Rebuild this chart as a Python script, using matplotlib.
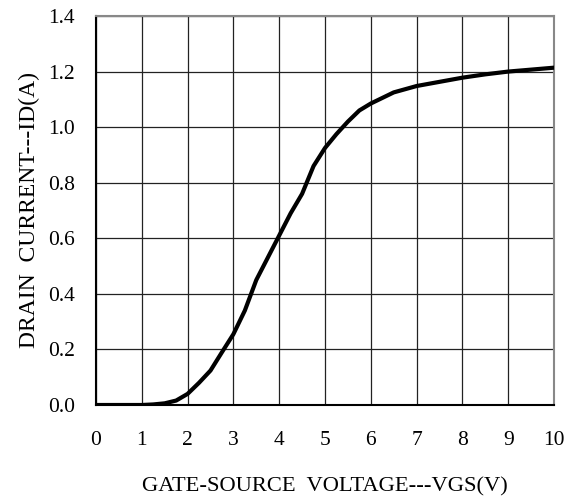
import matplotlib
matplotlib.use("Agg")
import matplotlib.pyplot as plt

vgs = [0, 0.5, 1.0, 1.25, 1.5, 1.75, 2.0, 2.25, 2.5, 2.75, 3.0, 3.25, 3.5, 3.75,
       4.0, 4.25, 4.5, 4.75, 5.0, 5.25, 5.5, 5.75, 6.0, 6.5, 7.0, 7.5, 8.0, 8.5,
       9.0, 9.5, 10.0]
id_a = [0, 0, 0, 0.002, 0.006, 0.016, 0.04, 0.08, 0.124, 0.19, 0.255, 0.34, 0.45,
        0.53, 0.61, 0.69, 0.76, 0.86, 0.925, 0.975, 1.02, 1.06, 1.085, 1.125,
        1.148, 1.163, 1.178, 1.19, 1.20, 1.207, 1.214]
x_ticks = [0, 1, 2, 3, 4, 5, 6, 7, 8, 9, 10]
y_ticks = [0.0, 0.2, 0.4, 0.6, 0.8, 1.0, 1.2, 1.4]
y_tick_labels = ["0.0", "0.2", "0.4", "0.6", "0.8", "1.0", "1.2", "1.4"]
x_label = "GATE-SOURCE  VOLTAGE---VGS(V)"
y_label = "DRAIN  CURRENT---ID(A)"

plt.rcParams['font.family'] = ['Liberation Serif', 'DejaVu Serif']
FS = 15.5

fig = plt.figure(figsize=(5.75, 4.97), dpi=100)
ax = fig.add_axes([96/575, (497-405)/497, (554-96)/575, (405-16)/497])

ax.plot(vgs, id_a, color='black', lw=3.0, solid_joinstyle='miter', zorder=3)

ax.set_xlim(0, 10)
ax.set_ylim(0, 1.4)
ax.set_xticks(x_ticks)
ax.set_yticks(y_ticks)
ax.set_yticklabels(y_tick_labels)
ax.grid(True, color='#222222', lw=0.9)
ax.tick_params(axis='both', which='both', length=0, labelsize=FS)
ax.tick_params(axis='y', pad=15)
ax.tick_params(axis='x', pad=19)

for s in ['left', 'bottom']:
    ax.spines[s].set_color('black')
    ax.spines[s].set_linewidth(1.5)
for s in ['top', 'right']:
    ax.spines[s].set_color('#888888')
    ax.spines[s].set_linewidth(1.5)

ax.set_xlabel(x_label, fontsize=16.2, labelpad=19)
ax.set_ylabel(y_label, fontsize=17, labelpad=6)

fig.savefig("out.png", dpi=100)
